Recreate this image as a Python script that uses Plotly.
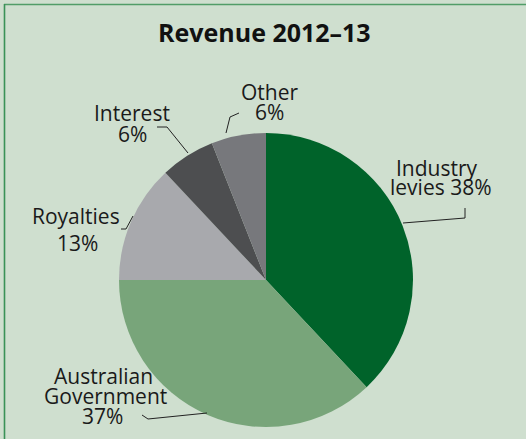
import plotly.graph_objects as go

# Revenue sources, 2012-13 (per cent of total), listed clockwise from 12 o'clock
categories = ["Industry levies", "Australian Government", "Royalties", "Interest", "Other"]
shares = [38, 37, 13, 6, 6]
colors = ["#00632a", "#78a57a", "#a8a9ad", "#4d4e50", "#77787c"]

title_text = "Revenue 2012–13"

W, H = 526, 439
BG = "#cfdfcf"
FONT = "Open Sans"
TXT = "#1a1a1a"


def px(x):
    return x / W


def py(y):
    return 1 - y / H


share = dict(zip(categories, shares))

fig = go.Figure()

# pie centred at (266, 280) px with radius ~147 px
cx, cy, r = 266, 280, 147
fig.add_trace(go.Pie(
    labels=categories,
    values=shares,
    sort=False,
    direction="clockwise",
    rotation=0,
    marker=dict(colors=colors, line=dict(width=0)),
    textinfo="none",
    hoverinfo="label+percent",
    showlegend=False,
    domain=dict(x=[px(cx - r), px(cx + r)], y=[py(cy + r), py(cy - r)]),
))

# label lines: (text, x, y) in pixels, centred
label_lines = [
    ("Other", 269, 92),
    (f"{share['Other']}%", 269, 112),
    ("Interest", 132, 113),
    (f"{share['Interest']}%", 132, 134),
    ("Industry", 437, 168),
    (f"levies {share['Industry levies']}%", 441, 187),
    ("Royalties", 76, 216),
    (f"{share['Royalties']}%", 77, 243),
    ("Australian", 103, 376),
    ("Government", 105, 396),
    (f"{share['Australian Government']}%", 102, 416),
]

annotations = [
    dict(text=title_text, x=px(264), y=py(32), xref="paper", yref="paper",
         showarrow=False, xanchor="center", yanchor="middle",
         font=dict(family=FONT, size=25, color="#111111", weight="bold"))
]
for t, x, y in label_lines:
    annotations.append(dict(
        text=t, x=px(x), y=py(y), xref="paper", yref="paper",
        showarrow=False, xanchor="center", yanchor="middle",
        font=dict(family=FONT, size=21, color=TXT)))

# leader lines from each label to its slice
leaders = [
    [(226, 133), (230, 117), (239, 113)],
    [(157, 127), (167, 127), (188, 153)],
    [(403, 223), (465, 218), (465, 208)],
    [(121, 229), (126, 229), (133, 216)],
    [(142, 415), (148, 419), (207, 413)],
]
shapes = []
for pts in leaders:
    for (x0, y0), (x1, y1) in zip(pts[:-1], pts[1:]):
        shapes.append(dict(type="line", xref="paper", yref="paper",
                           x0=px(x0), y0=py(y0), x1=px(x1), y1=py(y1),
                           line=dict(color="#222222", width=1)))

# green frame along the top and left edges
frame = "#3a9257"
shapes.append(dict(type="line", xref="paper", yref="paper",
                   x0=px(4), y0=py(4.5), x1=1, y1=py(4.5),
                   line=dict(color="#519d68", width=1.6)))
shapes.append(dict(type="line", xref="paper", yref="paper",
                   x0=px(4.5), y0=py(4), x1=px(4.5), y1=0,
                   line=dict(color=frame, width=1.6)))

fig.update_layout(
    width=W, height=H,
    margin=dict(l=0, r=0, t=0, b=0),
    paper_bgcolor=BG,
    plot_bgcolor=BG,
    annotations=annotations,
    shapes=shapes,
)

fig.write_html("out.html")
